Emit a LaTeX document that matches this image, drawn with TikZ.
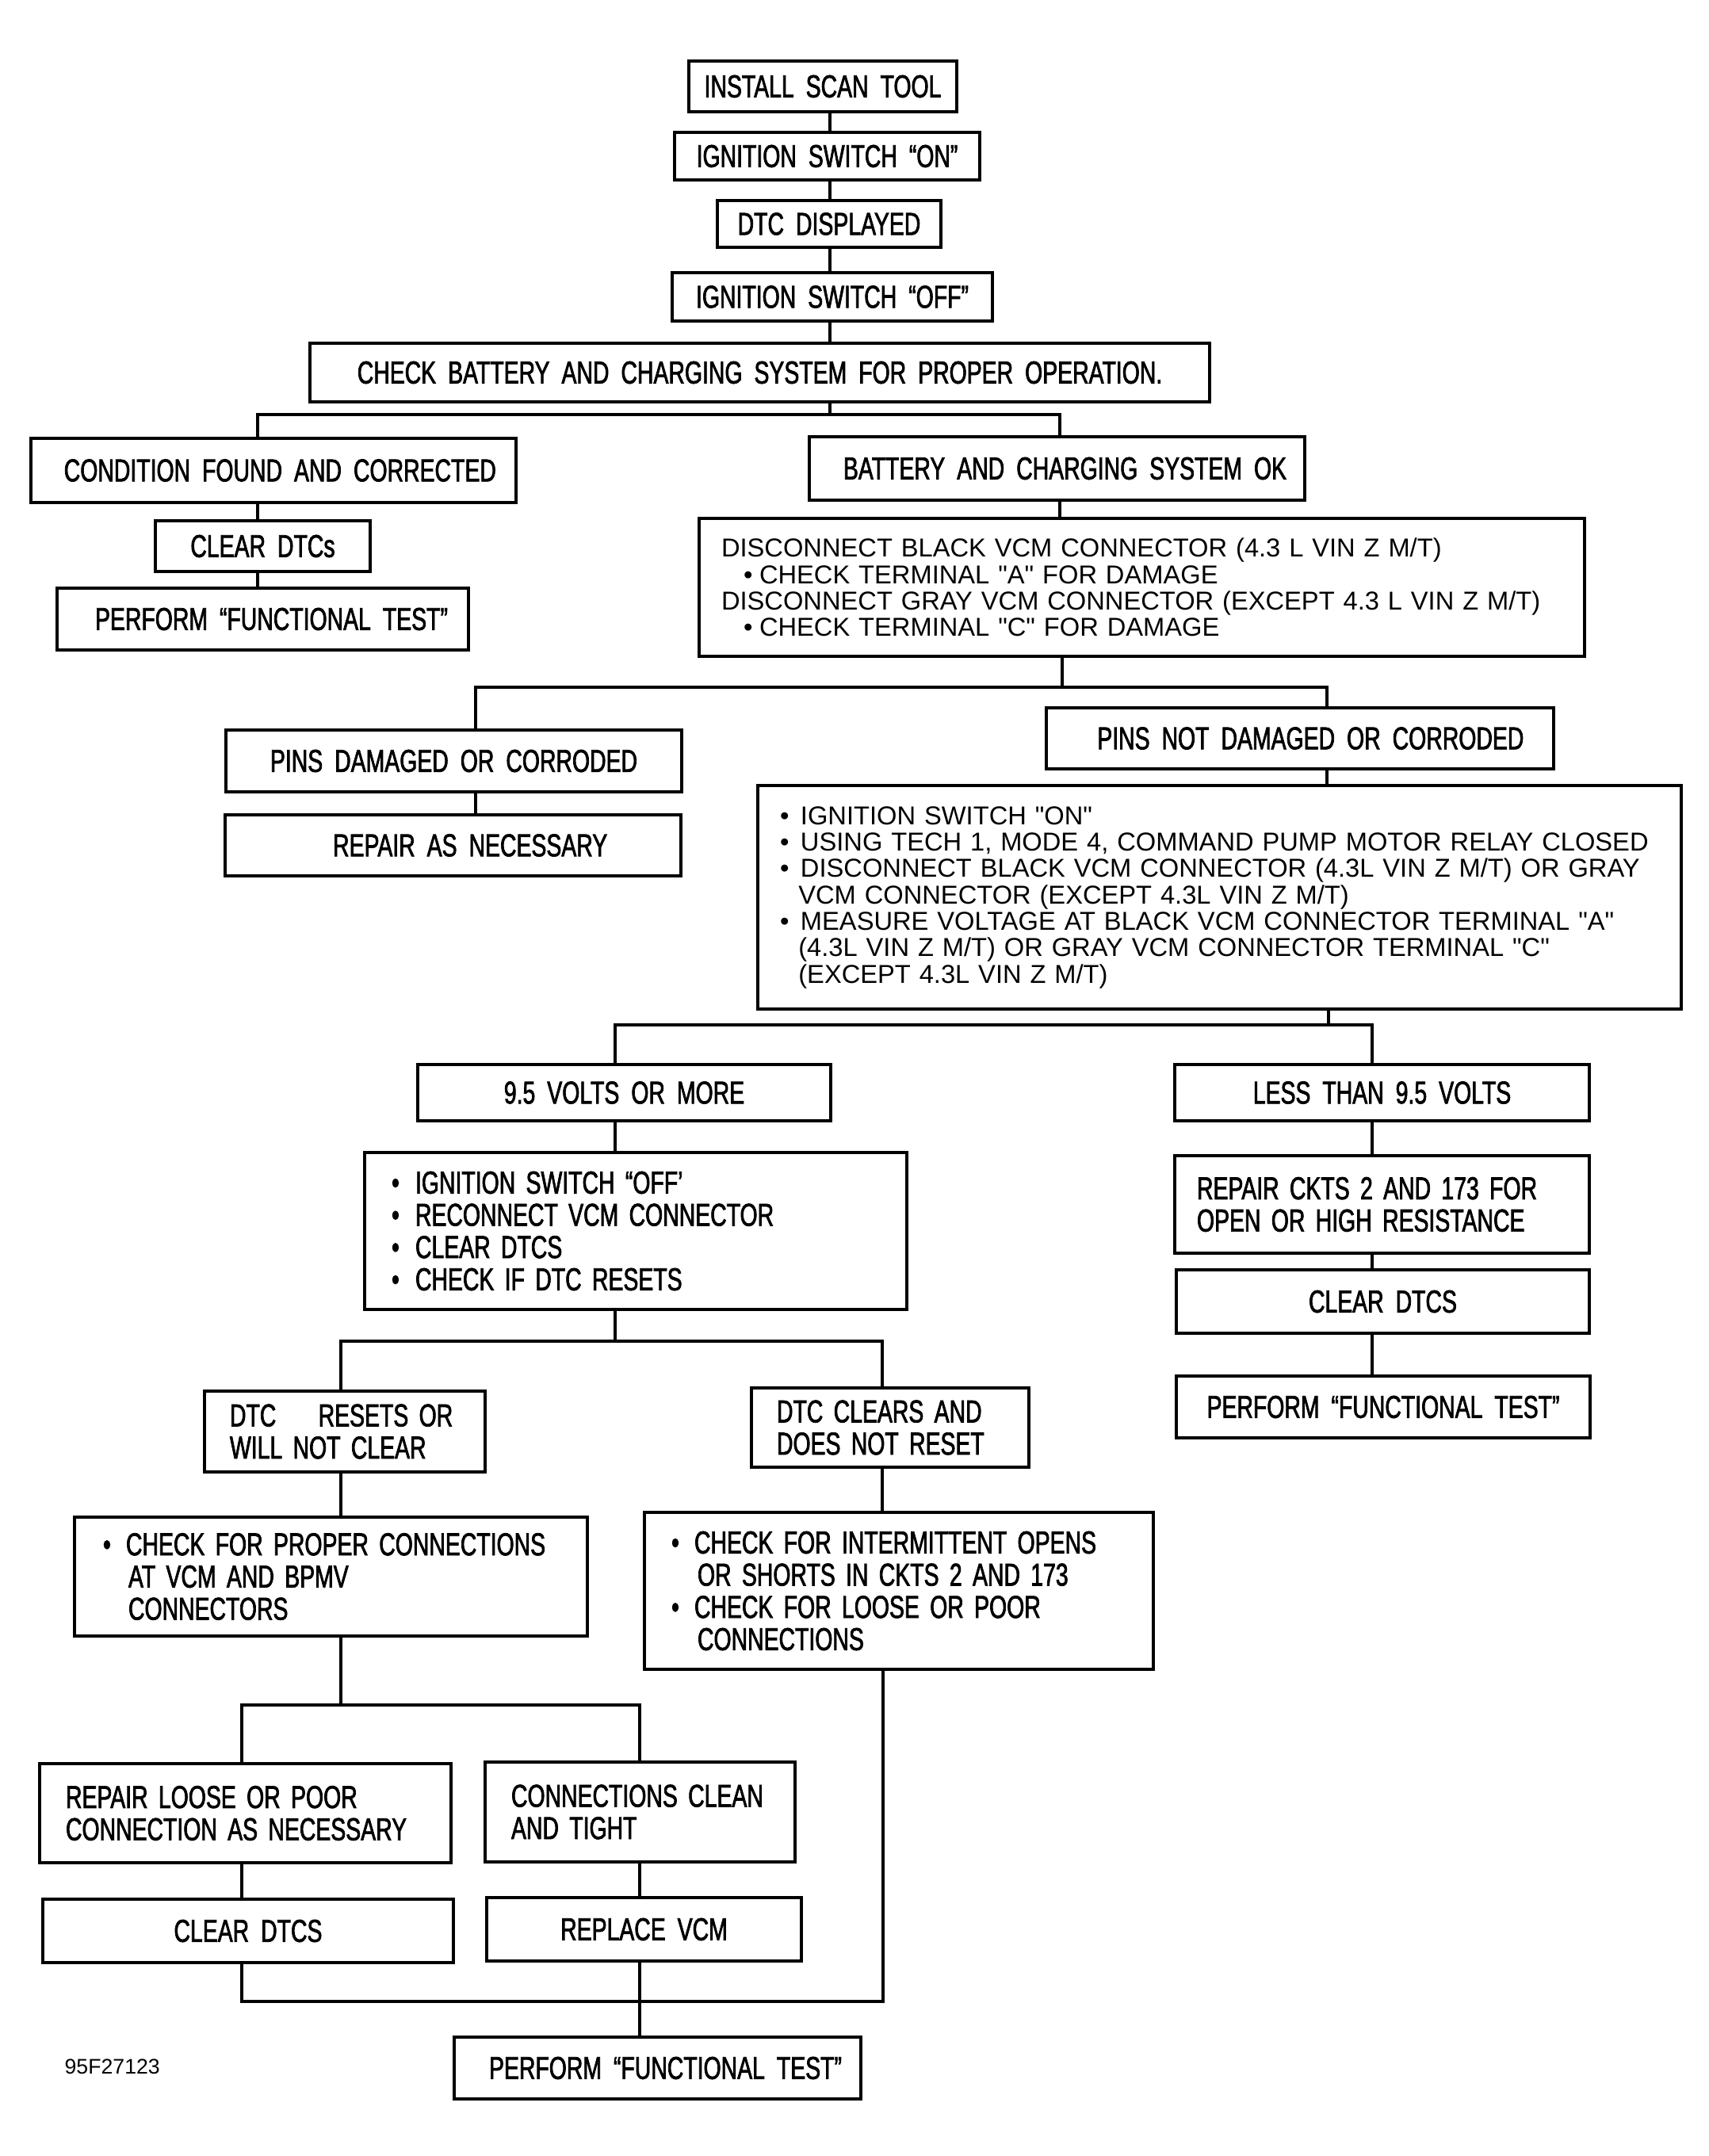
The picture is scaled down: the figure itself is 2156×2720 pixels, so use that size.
\documentclass[tikz,border=0pt]{standalone}
\usepackage{fontspec}
\setmainfont{Liberation Sans}
\newfontfamily\hdfont{Liberation Sans}[FakeStretch=0.71, WordSpace=1.9, FakeBold=1.8]
\newfontfamily\ltfont{Liberation Sans}
\tikzset{
  bx/.style={draw, line width=1pt, inner sep=0pt, font=\hdfont\fontsize{12pt}{12.2pt}\selectfont},
  sz/.style 2 args={minimum width=#1*0.3pt, minimum height=#2*0.3pt},
  lb/.style 2 args={align=left, inner xsep=#1*0.3pt, text width=#2*0.3pt},
  lt/.style={font=\ltfont\fontsize{9.8pt}{10pt}\selectfont},
  ln/.style={line width=1pt},
}
\begin{document}
\begin{tikzpicture}[x=0.3pt, y=-0.3pt]
\useasboundingbox (0,0) rectangle (2156,2720);
% top chain
\node[bx, sz={338}{64}] (n1) at (1038,109) {INSTALL SCAN TOOL};
\node[bx, sz={385}{60}] (n2) at (1043.5,197) {IGNITION SWITCH “ON”};
\node[bx, sz={282}{59}] (n3) at (1046,282.5) {DTC DISPLAYED};
\node[bx, sz={404}{61}] (n4) at (1050,374.5) {IGNITION SWITCH “OFF”};
\node[bx, sz={1135}{74}] (n5) at (958.5,470) {CHECK BATTERY AND CHARGING SYSTEM FOR PROPER OPERATION.};
\node[bx, sz={612}{81}] (n6) at (345,593.5) {\hspace*{5pt}CONDITION FOUND AND CORRECTED};
\node[bx, sz={625}{80}] (n7) at (1333.5,591) {\hspace*{6pt}BATTERY AND CHARGING SYSTEM OK};
\node[bx, sz={271}{64}] (n8) at (331.5,689) {CLEAR DTCs};
\node[bx, sz={519}{78}] (n9) at (331.5,781) {\hspace*{6.6pt}PERFORM “FUNCTIONAL TEST”};
\node[bx, lt, sz={1117}{174}, lb={28}{1061}] (n10) at (1440.5,741) {%
\mbox{DISCONNECT BLACK VCM CONNECTOR (4.3 L VIN Z M/T)}\\
\mbox{\hspace*{8.4pt}\makebox[6pt][l]{•}CHECK TERMINAL "A" FOR DAMAGE}\\
\mbox{DISCONNECT GRAY VCM CONNECTOR (EXCEPT 4.3 L VIN Z M/T)}\\
\mbox{\hspace*{8.4pt}\makebox[6pt][l]{•}CHECK TERMINAL "C" FOR DAMAGE}};
\node[bx, sz={575}{78}] (n11) at (572.5,960) {PINS DAMAGED OR CORRODED};
\node[bx, sz={575}{77}] (n12) at (571.5,1066.5) {\hspace*{13pt}REPAIR AS NECESSARY};
\node[bx, sz={640}{77}] (n13) at (1640,931.5) {\hspace*{8pt}PINS NOT DAMAGED OR CORRODED};
\node[bx, lt, sz={1165}{282}, lb={28}{1109}] (n14) at (1538.5,1132) {%
\mbox{\makebox[7.8pt][l]{•}IGNITION SWITCH "ON"}\\
\mbox{\makebox[7.8pt][l]{•}USING TECH 1, MODE 4, COMMAND PUMP MOTOR RELAY CLOSED}\\
\mbox{\makebox[7.8pt][l]{•}DISCONNECT BLACK VCM CONNECTOR (4.3L VIN Z M/T) OR GRAY}\\
\mbox{\hspace*{7pt}VCM CONNECTOR (EXCEPT 4.3L VIN Z M/T)}\\
\mbox{\makebox[7.8pt][l]{•}MEASURE VOLTAGE AT BLACK VCM CONNECTOR TERMINAL "A"}\\
\mbox{\hspace*{7pt}(4.3L VIN Z M/T) OR GRAY VCM CONNECTOR TERMINAL "C"}\\
\mbox{\hspace*{7pt}(EXCEPT 4.3L VIN Z M/T)}};
\node[bx, sz={521}{71}] (n15) at (787.5,1378.5) {9.5 VOLTS OR MORE};
\node[bx, sz={523}{71}] (n16) at (1743.5,1378.5) {LESS THAN 9.5 VOLTS};
\node[bx, sz={684}{198}, lb={34}{616}] (n17) at (802,1553) {%
\mbox{\makebox[9pt][l]{•}IGNITION SWITCH “OFF’}\\
\mbox{\makebox[9pt][l]{•}RECONNECT VCM CONNECTOR}\\
\mbox{\makebox[9pt][l]{•}CLEAR DTCS}\\
\mbox{\makebox[9pt][l]{•}CHECK IF DTC RESETS}};
\node[bx, sz={523}{123}, lb={28}{467}] (n18) at (1743.5,1519.5) {%
\mbox{REPAIR CKTS 2 AND 173 FOR}\\\mbox{OPEN OR HIGH RESISTANCE}};
\node[bx, sz={521}{80}] (n19) at (1744.5,1642) {CLEAR DTCS};
\node[bx, sz={522}{78}] (n20) at (1745,1775) {PERFORM “FUNCTIONAL TEST”};
\node[bx, sz={354}{102}, lb={32}{290}] (n21) at (435,1806) {%
\mbox{DTC\hspace{16pt}RESETS OR}\\\mbox{WILL NOT CLEAR}};
\node[bx, sz={350}{100}, lb={32}{286}] (n22) at (1123,1801) {%
\mbox{DTC CLEARS AND}\\\mbox{DOES NOT RESET}};
\node[bx, sz={647}{150}, lb={36}{575}] (n23) at (417.5,1989) {%
\mbox{\makebox[8.7pt][l]{•}CHECK FOR PROPER CONNECTIONS}\\
\mbox{\hspace*{9.6pt}AT VCM AND BPMV}\\
\mbox{\hspace*{9.6pt}CONNECTORS}};
\node[bx, sz={642}{198}, lb={34}{574}] (n24) at (1134,2007) {%
\mbox{\makebox[8.7pt][l]{•}CHECK FOR INTERMITTENT OPENS}\\
\mbox{\hspace*{9.9pt}OR SHORTS IN CKTS 2 AND 173}\\
\mbox{\makebox[8.7pt][l]{•}CHECK FOR LOOSE OR POOR}\\
\mbox{\hspace*{9.9pt}CONNECTIONS}};
\node[bx, sz={519}{125}, lb={33}{453}] (n25) at (309.5,2287.5) {%
\mbox{REPAIR LOOSE OR POOR}\\\mbox{CONNECTION AS NECESSARY}};
\node[bx, sz={391}{126}, lb={33}{325}] (n26) at (807.5,2286) {%
\mbox{CONNECTIONS CLEAN}\\\mbox{AND TIGHT}};
\node[bx, sz={518}{80}] (n27) at (313,2436) {CLEAR DTCS};
\node[bx, sz={397}{80}] (n28) at (812.5,2434) {REPLACE VCM};
\node[bx, sz={513}{78}] (n29) at (829.5,2609) {\hspace*{6pt}PERFORM “FUNCTIONAL TEST”};
\node[anchor=west, inner sep=0pt, font=\ltfont\fontsize{8pt}{8pt}\selectfont] (lbl) at (81,2607) {95F27123};
% connector coordinates
\coordinate (sp) at (1047,0);
\coordinate (b1l) at (325,523); \coordinate (b1r) at (1337,523);
\coordinate (b2) at (1340,867); \coordinate (b2l) at (600,867); \coordinate (b2r) at (1674,867);
\coordinate (b3) at (1676,1293); \coordinate (b3l) at (776,1293); \coordinate (b3r) at (1731,1293);
\coordinate (b4l) at (430,1692); \coordinate (b4r) at (1113,1692);
\coordinate (b5l) at (305,2151); \coordinate (b5r) at (807,2151);
\coordinate (m1) at (305,2525); \coordinate (m2) at (1114,2525);
% connectors
\draw[ln] (n1.south -| sp) -- (n2.north -| sp);
\draw[ln] (n2.south -| sp) -- (n3.north -| sp);
\draw[ln] (n3.south -| sp) -- (n4.north -| sp);
\draw[ln] (n4.south -| sp) -- (n5.north -| sp);
\draw[ln] (n5.south -| sp) -- (sp |- b1l);
\draw[ln] (n6.north -| b1l) -- (b1l) -- (b1r) -- (n7.north -| b1r);
\draw[ln] (n6.south -| b1l) -- (n8.north -| b1l);
\draw[ln] (n8.south -| b1l) -- (n9.north -| b1l);
\draw[ln] (n7.south -| b1r) -- (n10.north -| b1r);
\draw[ln] (n10.south -| b2) -- (b2);
\draw[ln] (n11.north -| b2l) -- (b2l) -- (b2r) -- (n13.north -| b2r);
\draw[ln] (n11.south -| b2l) -- (n12.north -| b2l);
\draw[ln] (n13.south -| b2r) -- (n14.north -| b2r);
\draw[ln] (n14.south -| b3) -- (b3);
\draw[ln] (n15.north -| b3l) -- (b3l) -- (b3r) -- (n16.north -| b3r);
\draw[ln] (n15.south -| b3l) -- (n17.north -| b3l);
\draw[ln] (n16.south -| b3r) -- (n18.north -| b3r);
\draw[ln] (n18.south -| b3r) -- (n19.north -| b3r);
\draw[ln] (n19.south -| b3r) -- (n20.north -| b3r);
\draw[ln] (n17.south -| b3l) -- (b3l |- b4l);
\draw[ln] (n21.north -| b4l) -- (b4l) -- (b4r) -- (n22.north -| b4r);
\draw[ln] (n21.south -| b4l) -- (n23.north -| b4l);
\draw[ln] (n22.south -| b4r) -- (n24.north -| b4r);
\draw[ln] (n23.south -| b4l) -- (b4l |- b5l);
\draw[ln] (n25.north -| b5l) -- (b5l) -- (b5r) -- (n26.north -| b5r);
\draw[ln] (n25.south -| b5l) -- (n27.north -| b5l);
\draw[ln] (n26.south -| b5r) -- (n28.north -| b5r);
\draw[ln] (n27.south -| m1) -- (m1) -- (m2) -- (n24.south -| m2);
\draw[ln] (n28.south -| b5r) -- (n29.north -| b5r);
\end{tikzpicture}
\end{document}
